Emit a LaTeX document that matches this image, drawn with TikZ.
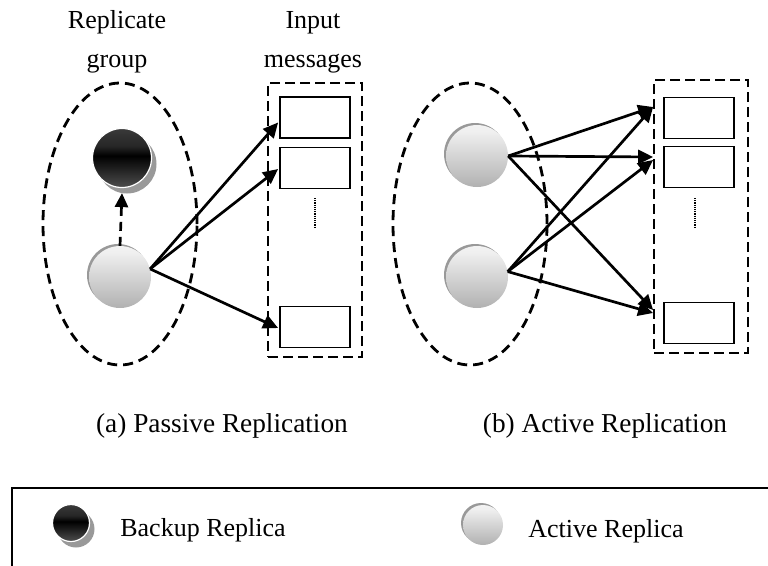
\documentclass[tikz,border=0pt]{standalone}
\usepackage{fontspec}
\setmainfont{Liberation Serif}
\usetikzlibrary{arrows.meta,shapes.geometric,shadows,calc}

\pgfdeclareverticalshading{backupshade}{100bp}{%
  color(0bp)=(black!45); color(30bp)=(black!75); color(52bp)=(black);
  color(60bp)=(black!85); color(100bp)=(black!65)}
\pgfdeclareverticalshading{activeshade}{100bp}{%
  color(0bp)=(black!45); color(35bp)=(black!25); color(70bp)=(black!6);
  color(100bp)=(white)}

\tikzset{
  grp/.style={draw, ellipse, line width=2.8pt, dash pattern=on 10pt off 6pt,
    minimum width=154pt, minimum height=282pt, inner sep=0pt},
  queue/.style={draw, rectangle, line width=2.8pt, dash pattern=on 10pt off 5pt,
    inner sep=0pt},
  msgbox/.style={draw, rectangle, line width=1.8pt, minimum width=70pt,
    minimum height=41pt, inner sep=0pt},
  backup/.style={circle, inner sep=0pt, minimum size=#1, draw=white, line width=1.2pt,
    shading=backupshade,
    drop shadow={shadow xshift=5pt, shadow yshift=-6pt, opacity=1, fill=black!40}},
  active/.style={circle, inner sep=0pt, minimum size=#1, shading=activeshade,
    drop shadow={shadow xshift=-2pt, shadow yshift=2pt, opacity=1, fill=black!40}},
  msg/.style={line width=2.7pt, -{Triangle[length=15pt,width=14pt]}},
  copyarrow/.style={line width=2.7pt, dash pattern=on 9pt off 6pt,
    -{Triangle[length=14pt,width=13pt]}},
  gap/.style={line width=1.6pt, dash pattern=on 1.2pt off 1pt},
  lbl/.style={font=\fontsize{26}{39}\selectfont, align=center},
  captext/.style={font=\fontsize{27.3}{34}\selectfont, anchor=base},
  leg/.style={font=\fontsize{26}{32}\selectfont, anchor=base}
}

\begin{document}
\begin{tikzpicture}[x=1pt,y=-1pt]
\useasboundingbox (0,0) rectangle (768,565);

% ---------- (a) passive replication ----------
\node[lbl, anchor=base] (hg) at (117,67) {Replicate\\group};
\node[lbl, anchor=base] (hm) at (313,67) {Input\\messages};

\node[grp] (ga) at (120,224) {};
\node[backup=59pt] (bk) at (122,158) {};
\node[active=62pt] (pa) at (120,277) {};
\draw[copyarrow] (pa.north) -- ($(bk.south)+(0,5)$);

\node[queue, minimum width=94pt, minimum height=274pt] (qa) at (315,220) {};
\node[msgbox] (a1) at (315,117.5) {};
\node[msgbox] (a2) at (315,168) {};
\node[msgbox] (a3) at (315,327) {};
\coordinate (ad1) at (315,198);
\coordinate (ad2) at (315,228);
\draw[gap] (ad1) -- (ad2);

\draw[msg] (pa.15) -- ($(a1.west)+(-1,5)$);
\draw[msg] (pa.15) -- ($(a2.west)+(-1,1)$);
\draw[msg] (pa.15) -- ($(a3.west)+(-1,1)$);

\node[captext] (ca) at (222,432) {(a) Passive Replication};

% ---------- (b) active replication ----------
\node[grp] (gb) at (470,224) {};
\node[active=62pt] (r1) at (477,156) {};
\node[active=62pt] (r2) at (477,277) {};

\node[queue, minimum width=94pt, minimum height=273pt] (qb) at (701,216.5) {};
\node[msgbox] (b1) at (699,118) {};
\node[msgbox] (b2) at (699,167) {};
\node[msgbox] (b3) at (699,323) {};
\coordinate (bd1) at (695,198);
\coordinate (bd2) at (695,228);
\draw[gap] (bd1) -- (bd2);

\draw[msg] (r1.east) -- ($(b1.west)+(-10,-11)$);
\draw[msg] (r1.east) -- ($(b2.west)+(-10,-10)$);
\draw[msg] (r1.east) -- ($(b3.west)+(-10,-13)$);
\draw[msg] (r2.10) -- ($(b1.west)+(-10,-11)$);
\draw[msg] (r2.10) -- ($(b2.west)+(-10,-7)$);
\draw[msg] (r2.10) -- ($(b3.west)+(-10,-10)$);

\node[captext] (cb) at (605,432) {(b) Active Replication};

% ---------- legend ----------
\coordinate (lgr) at (775,488);
\coordinate (lgc) at (12,488);
\coordinate (lgb) at (12,575);
\draw[line width=1.6pt] (lgr) -- (lgc) -- (lgb);

\node[backup=37pt] (lbk) at (71,523) {};
\node[leg] (tbk) at (203,536) {Backup Replica};
\node[active=40pt] (lac) at (483,525) {};
\node[leg] (tac) at (606,537) {Active Replica};
\end{tikzpicture}
\end{document}
